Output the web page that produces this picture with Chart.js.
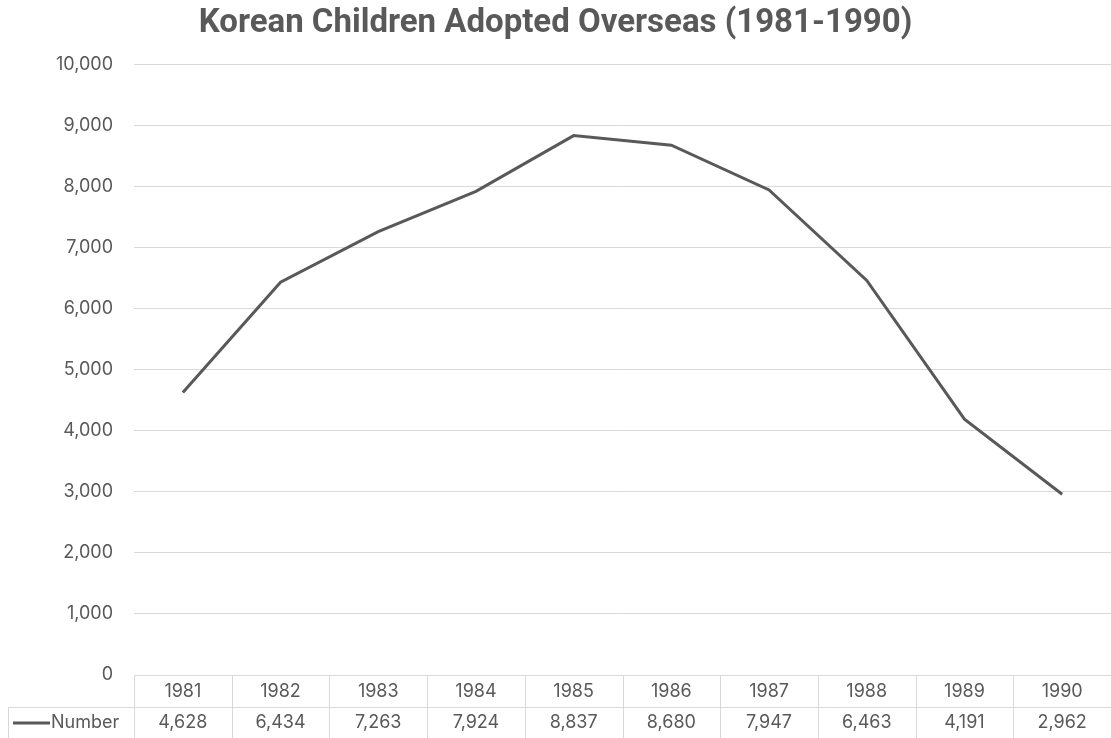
<!DOCTYPE html>
<html>
<head>
<meta charset="utf-8">
<style>
  html, body { margin: 0; padding: 0; background: #fff; }
  #wrap { width: 1111px; height: 738px; }
</style>
</head>
<body>
<div id="wrap"><canvas id="adoptions"></canvas></div>
<script src="https://cdn.jsdelivr.net/npm/chart.js"></script>
<script>
  // data
  const years = ["1981", "1982", "1983", "1984", "1985", "1986", "1987", "1988", "1989", "1990"];
  const adopted = [4628, 6434, 7263, 7924, 8837, 8680, 7947, 6463, 4191, 2962];
  const seriesName = "Number";
  const yTicks = [0, 1000, 2000, 3000, 4000, 5000, 6000, 7000, 8000, 9000, 10000];

  const grey = "#595959";
  const gridGrey = "#d9d9d9";
  const textFont = "Inter, 'Liberation Sans', Arial, sans-serif";

  // data table drawn under the plot, columns follow the x scale
  const dataTable = {
    id: "dataTable",
    afterDraw(chart) {
      const c = chart.ctx;
      const x = chart.scales.x;
      const area = chart.chartArea;
      const top = area.bottom;
      const mid = top + 32;
      const bottom = chart.height;
      const left = 8;

      const edges = [area.left];
      for (let i = 0; i < years.length; i++) {
        const p = x.getPixelForValue(i);
        const next = i < years.length - 1 ? x.getPixelForValue(i + 1) : p + (p - x.getPixelForValue(i - 1));
        edges.push((p + next) / 2);
      }

      c.save();
      c.strokeStyle = gridGrey;
      c.lineWidth = 1;
      c.beginPath();
      c.moveTo(area.left, top + 0.5);
      c.lineTo(chart.width, top + 0.5);
      c.moveTo(left, mid + 0.5);
      c.lineTo(chart.width, mid + 0.5);
      c.moveTo(left + 0.5, mid);
      c.lineTo(left + 0.5, bottom);
      edges.forEach(e => {
        const ex = Math.round(e) + 0.5;
        c.moveTo(ex, top);
        c.lineTo(ex, bottom);
      });
      c.stroke();

      c.fillStyle = grey;
      c.font = "18px " + textFont;
      c.textAlign = "center";
      c.textBaseline = "middle";
      years.forEach((y, i) => {
        const cx = x.getPixelForValue(i);
        c.fillText(y, cx, top + 17);
        c.fillText(adopted[i].toLocaleString("en-US"), cx, mid + 16);
      });

      // legend key + series name
      c.strokeStyle = grey;
      c.lineWidth = 3;
      c.beginPath();
      c.moveTo(13, mid + 16);
      c.lineTo(50, mid + 16);
      c.stroke();
      c.textAlign = "left";
      c.fillText(seriesName, 51, mid + 16);
      c.restore();
    }
  };

  new Chart(document.getElementById("adoptions"), {
    type: "line",
    data: {
      labels: years,
      datasets: [{
        label: seriesName,
        data: adopted,
        borderColor: grey,
        borderWidth: 3,
        pointRadius: 0,
        tension: 0,
        fill: false
      }]
    },
    options: {
      responsive: true,
      maintainAspectRatio: false,
      animation: false,
      layout: { padding: { left: 0, right: 0, top: 0, bottom: 63 } },
      plugins: {
        legend: { display: false },
        tooltip: { enabled: false },
        title: {
          display: true,
          text: "Korean Children Adopted Overseas (1981-1990)",
          color: grey,
          font: { family: "Roboto, 'Liberation Sans', Arial, sans-serif", size: 33, weight: "bold", lineHeight: 1.2 },
          padding: { top: 4, bottom: 21 }
        }
      },
      scales: {
        x: {
          type: "category",
          offset: true,
          display: false
        },
        y: {
          min: 0,
          max: 10000,
          afterFit(scale) { scale.width = 134; },
          afterBuildTicks(scale) { scale.ticks = yTicks.map(v => ({ value: v })); },
          border: { display: false },
          grid: { color: gridGrey, lineWidth: 1, drawTicks: false },
          ticks: {
            color: grey,
            padding: 21,
            font: { family: textFont, size: 18 },
            callback: v => v.toLocaleString("en-US")
          }
        }
      }
    },
    plugins: [dataTable]
  });
</script>
</body>
</html>
